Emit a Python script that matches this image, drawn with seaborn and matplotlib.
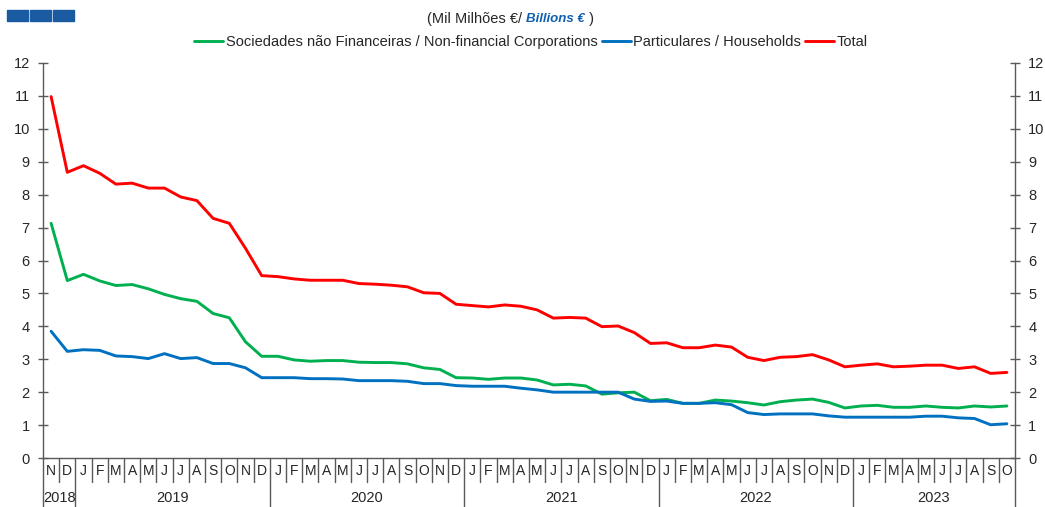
import numpy as np
import pandas as pd
import matplotlib
matplotlib.use("Agg")
import matplotlib.pyplot as plt
import matplotlib.transforms as mtransforms
import seaborn as sns

# ---------------- data ----------------
month_letters = ["N", "D"] + ["J", "F", "M", "A", "M", "J", "J", "A", "S", "O", "N", "D"] * 4 + \
                ["J", "F", "M", "A", "M", "J", "J", "A", "S", "O"]
years = ["2018", "2019", "2020", "2021", "2022", "2023"]
months_per_year = [2, 12, 12, 12, 12, 10]

nfc = [7.13, 5.39,
       5.58, 5.38, 5.24, 5.27, 5.14, 4.97, 4.84, 4.76, 4.39, 4.26, 3.53, 3.09,
       3.09, 2.98, 2.94, 2.96, 2.96, 2.91, 2.90, 2.90, 2.86, 2.74, 2.69, 2.44,
       2.43, 2.39, 2.43, 2.43, 2.37, 2.22, 2.24, 2.19, 1.94, 1.98, 2.00, 1.74,
       1.78, 1.66, 1.66, 1.76, 1.73, 1.68, 1.61, 1.71, 1.76, 1.79, 1.69, 1.52,
       1.58, 1.60, 1.54, 1.54, 1.58, 1.54, 1.52, 1.58, 1.55, 1.58]
households = [3.85, 3.24,
              3.29, 3.27, 3.10, 3.08, 3.02, 3.17, 3.02, 3.05, 2.87, 2.87, 2.74, 2.44,
              2.44, 2.44, 2.41, 2.41, 2.40, 2.35, 2.35, 2.35, 2.33, 2.26, 2.26, 2.20,
              2.18, 2.18, 2.18, 2.12, 2.07, 2.00, 2.00, 2.00, 2.00, 2.00, 1.79, 1.72,
              1.73, 1.66, 1.66, 1.68, 1.62, 1.38, 1.32, 1.34, 1.34, 1.34, 1.28, 1.24,
              1.24, 1.24, 1.24, 1.24, 1.27, 1.27, 1.22, 1.20, 1.01, 1.04]
total = [10.98, 8.68,
         8.88, 8.65, 8.32, 8.35, 8.20, 8.20, 7.93, 7.82, 7.28, 7.13, 6.37, 5.54,
         5.51, 5.44, 5.40, 5.40, 5.40, 5.30, 5.28, 5.25, 5.20, 5.02, 5.00, 4.67,
         4.63, 4.59, 4.65, 4.61, 4.50, 4.25, 4.27, 4.25, 3.99, 4.01, 3.81, 3.48,
         3.50, 3.35, 3.35, 3.43, 3.37, 3.06, 2.96, 3.06, 3.08, 3.14, 2.98, 2.77,
         2.82, 2.86, 2.77, 2.79, 2.82, 2.82, 2.72, 2.77, 2.57, 2.60]

series_names = ["Sociedades não Financeiras / Non-financial Corporations",
                "Particulares / Households",
                "Total"]
colors = ["#00b050", "#0070c0", "#ff0000"]

# ---------------- build frame ----------------
n = len(month_letters)
idx = np.arange(n)
df = pd.concat([
    pd.DataFrame({"t": idx, "value": nfc, "series": series_names[0]}),
    pd.DataFrame({"t": idx, "value": households, "series": series_names[1]}),
    pd.DataFrame({"t": idx, "value": total, "series": series_names[2]}),
])

sns.set_theme(style="white")
plt.rcParams["font.family"] = ["Liberation Sans", "DejaVu Sans"]

fig = plt.figure(figsize=(10.45, 5.07), dpi=100)
ax = fig.add_axes([43 / 1045, 49 / 507, 972 / 1045, 395 / 507])

sns.lineplot(data=df, x="t", y="value", hue="series", hue_order=series_names,
             palette=colors, linewidth=2.1, ax=ax, legend=True)

ax.set_xlim(-0.5, n - 0.5)
ax.set_ylim(0, 12)
ax.set_xlabel("")
ax.set_ylabel("")

axis_color = "#595959"
text_color = "#262626"
for s in ["left", "right", "bottom"]:
    ax.spines[s].set_visible(True)
    ax.spines[s].set_color(axis_color)
    ax.spines[s].set_linewidth(1.0)
ax.spines["top"].set_visible(False)

ax.set_yticks(range(0, 13))
ax.tick_params(axis="y", which="both", left=True, right=True, labelleft=True,
               labelright=True, direction="inout", length=7, width=1.0,
               color=axis_color, labelsize=10.5, labelcolor=text_color, pad=6)

ax.set_xticks(idx)
ax.set_xticklabels(month_letters)
ax.tick_params(axis="x", length=0, labelsize=10, labelcolor=text_color, pad=4)

# month separators and year separators
trans = mtransforms.blended_transform_factory(ax.transData, ax.transAxes)
month_sep_depth = -24 / 395
year_sep_depth = -49 / 395
year_bounds = np.concatenate([[0], np.cumsum(months_per_year)]) - 0.5
for k in range(n + 1):
    pos = k - 0.5
    depth = year_sep_depth if np.any(np.isclose(year_bounds, pos)) else month_sep_depth
    ax.plot([pos, pos], [0, depth], transform=trans, color=axis_color,
            linewidth=1.0, clip_on=False)

for i, yr in enumerate(years):
    center = (year_bounds[i] + year_bounds[i + 1]) / 2
    ax.text(center, -40 / 395, yr, transform=trans, ha="center", va="center",
            fontsize=10.5, color=text_color)

# legend
handles, labels = ax.get_legend_handles_labels()
ax.legend(handles, labels, loc="center", bbox_to_anchor=(531 / 1045, 1 - 42 / 507),
          bbox_transform=fig.transFigure, ncol=3, frameon=False,
          fontsize=10.5, handlelength=2.0, handletextpad=0.15,
          columnspacing=0.3, labelcolor=text_color)

# title (mixed styles)
fig.canvas.draw()
renderer = fig.canvas.get_renderer()
y_title = 1 - 19 / 507
t1 = fig.text(427 / 1045, y_title, "(Mil Milhões €/ ", ha="left", va="center",
              fontsize=10.5, color=text_color)
bb = t1.get_window_extent(renderer)
t2 = fig.text(bb.x1 / fig.bbox.width, y_title, "Billions €", ha="left", va="center",
              fontsize=9.5, color="#1060b0", fontweight="bold", fontstyle="italic")
bb2 = t2.get_window_extent(renderer)
fig.text(bb2.x1 / fig.bbox.width, y_title, " )", ha="left", va="center",
         fontsize=10.5, color=text_color)

# logo squares
for i in range(3):
    fig.patches.append(plt.Rectangle(((7 + i * 23) / 1045, 1 - 21 / 507), 21 / 1045, 11 / 507,
                                     transform=fig.transFigure, color="#1a5aa0",
                                     figure=fig))

fig.savefig("out.png", dpi=100)
